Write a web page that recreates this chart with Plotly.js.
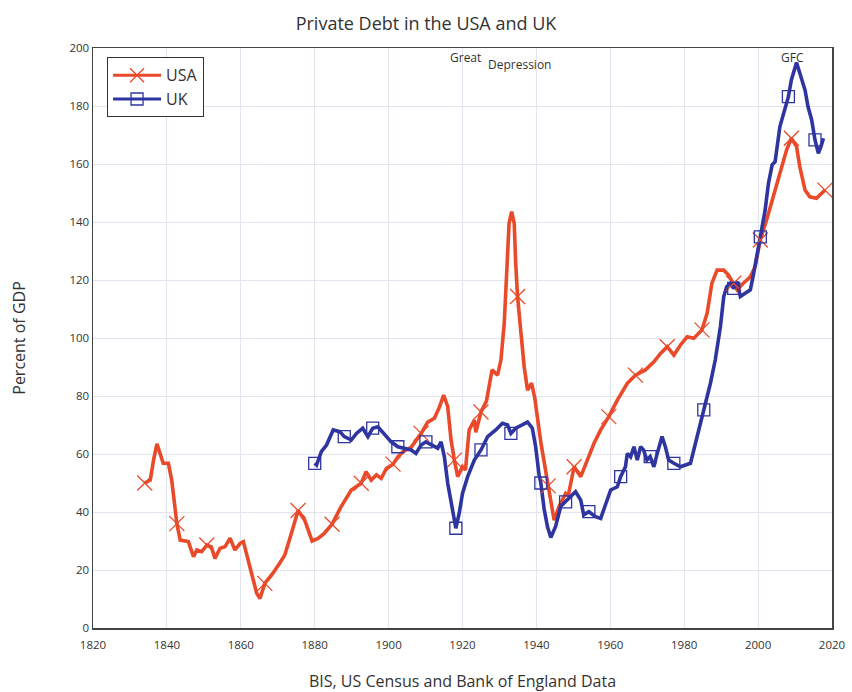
<!DOCTYPE html>
<html>
<head>
<meta charset="utf-8">
<script src="https://cdn.plot.ly/plotly-3.0.1.min.js"></script>
<style>html,body{margin:0;padding:0;background:#fff;}#chart{width:852px;height:692px;}</style>
</head>
<body>
<div id="chart"></div>
<script>
// ---- Data ----
const usaYears = [1834,1835.5,1836.4,1837.3,1838.2,1839,1840.4,1841.3,1842.7,1843.6,1845.8,1847.2,1848.1,1849.4,1850.8,1852,1853,1854.4,1855.7,1857.1,1858.4,1859.8,1860.7,1861.6,1862.9,1864.3,1865.2,1866.5,1868.7,1870.5,1871.9,1873.7,1875.5,1877.3,1879.3,1880.9,1882.5,1884.7,1887,1889.9,1892.6,1893.9,1895.3,1896.7,1898,1899.4,1901.2,1902.5,1903.9,1906.1,1908.8,1910.6,1912.4,1913.7,1914.9,1916,1916.9,1917.8,1918.7,1920,1920.8,1921.8,1923.2,1923.6,1925,1926.5,1928,1929.5,1930.4,1931.3,1932.2,1932.6,1933.3,1934,1934.4,1934.9,1935.8,1936.7,1937.6,1938.7,1939.6,1941.2,1943.2,1944.8,1946.1,1947.9,1948.6,1950.2,1952,1953.8,1955.6,1957.4,1959.6,1961.9,1964.6,1966.8,1969.5,1971.8,1973.6,1975.4,1977.2,1979,1980.8,1982.6,1984.8,1986.2,1987.5,1988.9,1990.7,1992,1993.4,1994.3,1996,1997.9,1999.2,2000.6,2002.3,2004.1,2005.9,2007.7,2009,2010.4,2011.3,2012.7,2014,2015.8,2017.2,2018.1];
const usaDebt = [50,51,58,63.5,60,56.8,56.8,51,36,30.3,29.8,24.6,26.9,26.3,28.6,28,24,27.5,28,31,26.9,29.2,29.8,25.8,18.9,12,10.2,15.4,18.9,22.3,25.2,32.7,40.5,37.2,30,30.9,32.5,35.8,41.5,47.6,49.9,53.9,51,52.8,51.6,55,56.5,59,60.8,62.3,67.1,71,72.3,76,80.3,76.3,64.8,57.9,52.2,55.6,54.5,68.3,71.7,67.5,74.5,78.3,89,87.2,92.4,105,125.7,139.5,143.6,139.5,125.7,114.3,102,90,82,84.4,79,64,49,37.2,41.8,46.4,45.5,55.6,52.2,57.9,63.7,68.3,72.9,78.6,84.4,87.2,89,91.8,94.7,97,94.1,97.6,100.4,99.9,102.8,108.5,118.9,123.4,123.4,121.7,118.9,116.6,118.9,121.1,124.6,133.8,140.7,148.7,156.8,164.8,168.9,166,159,151,148.7,148.2,149.9,151];
const usaMarkYears = [1834,1842.7,1850.8,1866.5,1875.5,1884.7,1892.6,1901.2,1908.8,1917.8,1925,1934.9,1943.2,1950.2,1959.6,1966.8,1975.4,1984.8,1993.4,2000.6,2009,2018.1];

const ukYears = [1880,1880.5,1881.8,1883.2,1885,1886.8,1888,1889.9,1891.3,1893,1894.4,1895.7,1897.1,1898.9,1900.7,1902.5,1904.3,1906.1,1907.4,1908.8,1910.1,1911.9,1913.3,1914.2,1915.1,1916,1916.9,1917.8,1918.2,1919.1,1920,1921.4,1923.2,1925,1926.8,1929,1930.8,1932.2,1933.1,1934.4,1935.8,1937.6,1938.9,1939.8,1940.7,1941.2,1942.1,1943,1943.9,1945.2,1946.6,1947.9,1949.2,1950.6,1952,1952.8,1954.2,1956,1957.4,1958.7,1960.1,1961.9,1962.8,1964.1,1964.6,1965.5,1966.4,1967.3,1968.2,1969,1969.9,1970.8,1971.8,1972.7,1974,1974.9,1975.8,1977.2,1979,1981.7,1982.6,1983.9,1985.3,1987.1,1988.4,1989.8,1990.7,1991.5,1992.5,1993.4,1994.3,1995.2,1996.5,1997.9,1998.8,1999.7,2000.6,2001.9,2002.8,2003.8,2004.6,2005.9,2007.3,2008.2,2009,2010,2010.4,2011.3,2012.7,2013.5,2014.5,2015.4,2016.3,2017,2017.7];
const ukDebt = [56.8,56.2,60.8,63.1,68.3,67.7,66,64.8,67.1,68.9,66,68.9,69.4,66.6,64.2,62.5,62,61.4,60.2,63.1,64.2,63.1,62,64.2,59,49.9,43,36.1,34.4,39.5,46.4,52.2,57.9,61.4,66,68.3,70.6,70,67.1,68.9,69.8,71,68.9,62.5,53,50,41,34.9,31.2,35,42,43.5,45,47,44.1,39,40.1,38.4,37.8,43,47.6,48.7,52.2,55.6,60.2,59,62.5,57.9,62.5,61.4,57.9,59.1,55.6,60.2,66,62.5,57.9,56.8,55.6,56.8,61.4,68.3,75.2,84.4,92.4,103.9,114.3,117.7,118.9,117.1,119.4,114.3,115.4,116.6,122.3,129.2,134.9,144.1,153.3,159.7,160.8,172.9,179.8,183.2,189,193.6,195,191.3,185.5,179.8,175.2,168.3,163.7,166,168.9];
const ukMarkYears = [1880,1888,1895.7,1902.5,1910.1,1918.2,1925,1933.1,1941.2,1947.9,1954.2,1962.8,1970.8,1977.2,1985.3,1993.4,2000.6,2008.2,2015.4];

const seriesNames = ['USA','UK'];
const annotationTexts = ['Great','Depression','GFC'];
const annotationYears = [1916.2, 1926.3, 2009.2];
const annotationValues = [196.6, 194.4, 196.8];

// ---- Styles ----
const red = '#ea4a2a';
const blue = '#2f35a0';
const font = 'Open Sans, Noto Sans, sans-serif';

function pick(years, vals, marks) {
  const xs = [], ys = [];
  years.forEach((y, i) => { if (marks.includes(y)) { xs.push(y); ys.push(vals[i]); } });
  return {xs, ys};
}
const usaM = pick(usaYears, usaDebt, usaMarkYears);
const ukM = pick(ukYears, ukDebt, ukMarkYears);

const traces = [
  {x: usaYears, y: usaDebt, mode: 'lines', line: {color: red, width: 3.6}, showlegend: false, hoverinfo: 'skip'},
  {x: ukYears, y: ukDebt, mode: 'lines', line: {color: blue, width: 3.6}, showlegend: false, hoverinfo: 'skip'},
  {x: usaM.xs, y: usaM.ys, mode: 'markers', marker: {symbol: 'x-thin-open', size: 15, color: red, line: {color: red, width: 1.3}}, showlegend: false},
  {x: ukM.xs, y: ukM.ys, mode: 'markers', marker: {symbol: 'square-open', size: 12, color: blue, line: {color: blue, width: 1.3}}, showlegend: false},
  {x: [null], y: [null], name: seriesNames[0], mode: 'lines+markers', line: {color: red, width: 3}, marker: {symbol: 'x-thin-open', size: 14, color: red, line: {color: red, width: 1.3}}},
  {x: [null], y: [null], name: seriesNames[1], mode: 'lines+markers', line: {color: blue, width: 3}, marker: {symbol: 'square-open', size: 12, color: blue, line: {color: blue, width: 1.3}}}
];

const annotations = annotationTexts.map((t, i) => ({
  x: annotationYears[i], y: annotationValues[i], xref: 'x', yref: 'y',
  text: t, showarrow: false, xanchor: i === 2 ? 'center' : 'left', yanchor: 'middle',
  font: {family: font, size: 12, color: '#333'}
}));

const axisCommon = {
  showgrid: true, gridcolor: '#e2e4f0', gridwidth: 1,
  showline: true, linecolor: '#444', linewidth: 1.5, mirror: true,
  zeroline: false, tickfont: {family: font, size: 11.5, color: '#333'}
};

const layout = {
  width: 852, height: 692,
  margin: {l: 93, r: 20, t: 48, b: 64},
  paper_bgcolor: '#fff', plot_bgcolor: '#fff',
  font: {family: font, color: '#333'},
  title: {text: 'Private Debt in the USA and UK', x: 0.5, xanchor: 'center', y: 0.966, yanchor: 'middle', font: {family: font, size: 18, color: '#333'}},
  xaxis: Object.assign({}, axisCommon, {range: [1820, 2020], tick0: 1820, dtick: 20,
    ticks: 'outside', ticklen: 6, tickcolor: 'rgba(0,0,0,0)',
    title: {text: 'BIS, US Census and Bank of England Data', font: {family: font, size: 16, color: '#333'}, standoff: 26}}),
  yaxis: Object.assign({}, axisCommon, {range: [0, 200], tick0: 0, dtick: 20, ticks: '',
    title: {text: 'Percent of GDP', font: {family: font, size: 16, color: '#333'}, standoff: 40}}),
  legend: {x: 0.019, y: 0.984, xanchor: 'left', yanchor: 'top', bgcolor: '#fff', bordercolor: '#333', borderwidth: 1,
    font: {family: font, size: 16, color: '#333'}, tracegroupgap: 0, itemwidth: 48},
  annotations: annotations,
  showlegend: true
};

Plotly.newPlot('chart', traces, layout, {displayModeBar: false, staticPlot: true});
</script>
</body>
</html>
